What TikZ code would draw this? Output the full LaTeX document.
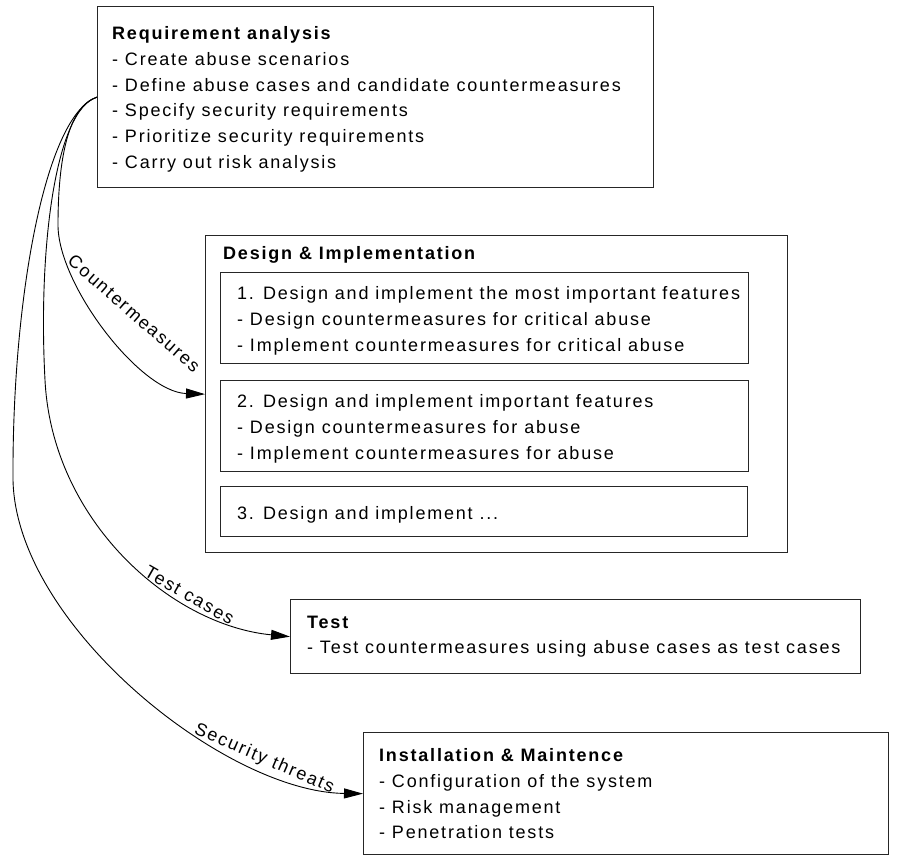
\documentclass[tikz,border=0pt]{standalone}
\usepackage{fontspec}
\setmainfont{Liberation Sans}[LetterSpace=10.0]
\usetikzlibrary{arrows.meta}
\begin{document}
\begin{tikzpicture}[x=1pt,y=-1pt,
  box/.style={draw=black!85, line width=1.3pt, anchor=north west, inner sep=0pt},
  txt/.style={anchor=north west, inner sep=0pt, align=left, font=\fontsize{18}{25.7}\selectfont},
  conn/.style={draw=black, line width=0.9pt, -{Triangle[length=19pt,width=10pt]}},
  lbl/.style={sloped, above, inner sep=1.5pt, font=\fontsize{18}{20}\selectfont},
  lblr/.style={inner sep=0pt, anchor=base, font=\fontsize{18}{20}\selectfont},
]
\useasboundingbox (0,0) rectangle (910,856);

% boxes
\node[box, minimum width=556pt, minimum height=181pt] (req) at (97,6) {};
\node[box, minimum width=582pt, minimum height=317pt] (design) at (205,235) {};
\node[box, minimum width=528pt, minimum height=91pt] (d1) at (220,272) {};
\node[box, minimum width=528pt, minimum height=91pt] (d2) at (220,380) {};
\node[box, minimum width=527pt, minimum height=50pt] (d3) at (220,486) {};
\node[box, minimum width=570pt, minimum height=74pt] (test) at (290,599) {};
\node[box, minimum width=525pt, minimum height=122pt] (inst) at (363,732) {};

% texts
\node[txt] (reqtxt) at (112,26.6) {\textbf{Requirement analysis}\\
- Create abuse scenarios\\
- Define abuse cases and candidate countermeasures\\
- Specify security requirements\\
- Prioritize security requirements\\
- Carry out risk analysis};
\node[txt] (destxt) at (223,246.6) {\textbf{Design \& Implementation}};
\node[txt] (d1txt) at (237,286.6) {1. Design and implement the most important features\\
- Design countermeasures for critical abuse\\
- Implement countermeasures for critical abuse};
\node[txt] (d2txt) at (237,394.6) {2. Design and implement important features\\
- Design countermeasures for abuse\\
- Implement countermeasures for abuse};
\node[txt] (d3txt) at (237,506.6) {3. Design and implement ...};
\node[txt] (testtxt) at (307,615.6) {\textbf{Test}\\
- Test countermeasures using abuse cases as test cases};
\node[txt] (insttxt) at (379,748.6) {\textbf{Installation \& Maintence}\\
- Configuration of the system\\
- Risk management\\
- Penetration tests};

% connectors
\draw[conn] (req.west) .. controls (68,106) and (58,160) .. (58,225)
  .. controls (58,285) and (140,392) .. (design.west);
\node[lblr, rotate=-41] (lblc) at (130,318) {Countermeasures};
\draw[conn] (req.west) .. controls (55,110) and (38,250) .. (45,380)
  .. controls (52,520) and (170,625) .. node[lbl, pos=0.70] (lblt) {Test cases} (test.west);
\draw[conn] (req.west) .. controls (45,115) and (12,300) .. (13,480)
  .. controls (16,625) and (225,792) .. node[lbl, pos=0.77] (lbls) {Security threats} (inst.west);
\end{tikzpicture}
\end{document}
